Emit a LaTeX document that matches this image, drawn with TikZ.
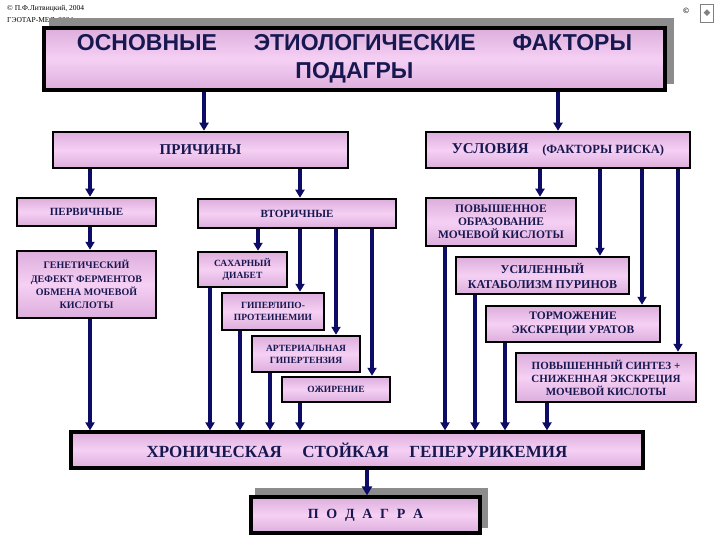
\documentclass[tikz,border=0pt]{standalone}
\usepackage{fontspec}
\setmainfont{Liberation Serif}
\newfontfamily\headfont{Liberation Sans}
\newfontfamily\dejavu{DejaVu Sans}
\usetikzlibrary{arrows.meta, positioning, calc, backgrounds}
\definecolor{inknavy}{HTML}{181850}
\definecolor{arrownavy}{HTML}{0C0C66}
\definecolor{boxedge}{HTML}{DCAEDC}
\definecolor{boxmid}{HTML}{F6D0F4}
\definecolor{shadowgray}{HTML}{8C8C8C}
\newcommand{\boxfont}[2]{\fontsize{#1}{#2}\selectfont\bfseries}
\tikzstyle{factbox} = [draw=black, rectangle, line width=2.5pt, inner sep=1pt, align=center, text=inknavy, top color=boxedge, bottom color=boxedge, middle color=boxmid]
\tikzstyle{bigbox} = [factbox, line width=3.2pt]
\tikzstyle{arrw} = [line width=3.2pt, draw=arrownavy, -{Triangle[length=8pt, width=9pt]}]
\tikzstyle{note} = [inner sep=0pt, font=\fontsize{7.5}{9}\selectfont]

\begin{document}
\begin{tikzpicture}[x=1pt, y=-1pt]
    \useasboundingbox (0,0) rectangle (720,540);

    % Title
    \node (title) [bigbox, minimum width=621pt, minimum height=62pt, text=inknavy, font=\headfont\bfseries\fontsize{23}{28}\selectfont] at (354.5,59) {ОСНОВНЫЕ\hspace{1.6em}ЭТИОЛОГИЧЕСКИЕ\hspace{1.6em}ФАКТОРЫ\\ПОДАГРЫ};
    \begin{scope}[on background layer]
        \node (cpr1) [note, anchor=west] at (7,9) {© П.Ф.Литвицкий, 2004};
        \node (cpr2) [note, anchor=west] at (7,21) {ГЭОТАР-МЕД, 2004};
        \fill[shadowgray] ([shift={(7pt,8pt)}]title.south west) rectangle ([shift={(7pt,8pt)}]title.north east);
    \end{scope}
    \node (cpr3) [note, font=\bfseries\fontsize{8}{9}\selectfont] at (686,11) {©};
    \node (logo) [draw=gray, line width=0.6pt, minimum width=13pt, minimum height=18pt, inner sep=0pt, text=gray, font=\dejavu\fontsize{9}{9}\selectfont] at (707,13) {◆};

    % Causes
    \node (prich) [factbox, minimum width=295pt, minimum height=36pt, font=\boxfont{15}{18}] at (200.5,150) {ПРИЧИНЫ};
    \node (perv) [factbox, minimum width=139pt, minimum height=28pt, font=\boxfont{11}{13}] at (86.5,212) {ПЕРВИЧНЫЕ};
    \node (vtor) [factbox, minimum width=198pt, minimum height=29pt, font=\boxfont{11}{13}] at (297,213.5) {ВТОРИЧНЫЕ};
    \node (genet) [factbox, minimum width=139pt, minimum height=67pt, font=\boxfont{10}{13.3}] at (86.5,284.5) {ГЕНЕТИЧЕСКИЙ\\ДЕФЕКТ ФЕРМЕНТОВ\\ОБМЕНА МОЧЕВОЙ\\КИСЛОТЫ};
    \node (diab) [factbox, minimum width=89pt, minimum height=35pt, font=\boxfont{9.5}{12}] at (242.5,269.5) {САХАРНЫЙ\\ДИАБЕТ};
    \node (lipo) [factbox, minimum width=102pt, minimum height=37pt, font=\boxfont{9.5}{12.5}] at (273,311.5) {ГИПЕРЛИПО-\\ПРОТЕИНЕМИИ};
    \node (hypert) [factbox, minimum width=108pt, minimum height=36pt, font=\boxfont{9.5}{12}] at (306,354) {АРТЕРИАЛЬНАЯ\\ГИПЕРТЕНЗИЯ};
    \node (obes) [factbox, minimum width=108pt, minimum height=25pt, font=\boxfont{9.5}{12}] at (336,389.5) {ОЖИРЕНИЕ};

    % Conditions
    \node (uslov) [factbox, minimum width=264pt, minimum height=36pt, font=\boxfont{15}{18}] at (558,150) {УСЛОВИЯ\hspace{0.9em}{\fontsize{12.5}{15}\selectfont(ФАКТОРЫ РИСКА)}};
    \node (uric) [factbox, minimum width=150pt, minimum height=48pt, font=\boxfont{11.5}{13}] at (501,222) {ПОВЫШЕННОЕ\\ОБРАЗОВАНИЕ\\МОЧЕВОЙ КИСЛОТЫ};
    \node (purin) [factbox, minimum width=173pt, minimum height=37pt, font=\boxfont{12}{15}] at (542.5,275.5) {УСИЛЕННЫЙ\\КАТАБОЛИЗМ ПУРИНОВ};
    \node (urat) [factbox, minimum width=174pt, minimum height=36pt, font=\boxfont{11.5}{14}] at (573,324) {ТОРМОЖЕНИЕ\\ЭКСКРЕЦИИ УРАТОВ};
    \node (synth) [factbox, minimum width=180pt, minimum height=49pt, font=\boxfont{11}{13}] at (606,377.5) {ПОВЫШЕННЫЙ СИНТЕЗ +\\СНИЖЕННАЯ ЭКСКРЕЦИЯ\\МОЧЕВОЙ КИСЛОТЫ};

    % Result
    \node (hyper) [bigbox, minimum width=572pt, minimum height=36pt, font=\boxfont{17}{20}] at (357,450) {ХРОНИЧЕСКАЯ\hspace{1.2em}СТОЙКАЯ\hspace{1.2em}ГЕПЕРУРИКЕМИЯ};
    \node (gout) [bigbox, minimum width=229pt, minimum height=36pt, font=\boxfont{14}{16}] at (365.5,515) {П\hspace{0.55em}О\hspace{0.55em}Д\hspace{0.55em}А\hspace{0.55em}Г\hspace{0.55em}Р\hspace{0.55em}А};
    \begin{scope}[on background layer]
        \fill[shadowgray] ([shift={(6pt,7pt)}]gout.south west) rectangle ([shift={(6pt,7pt)}]gout.north east);
    \end{scope}

    % Arrows
    \foreach \xx/\src/\dst in {204/title/prich, 558/title/uslov, 90/prich/perv, 300/prich/vtor, 90/perv/genet,
        258/vtor/diab, 300/vtor/lipo, 336/vtor/hypert, 372/vtor/obes,
        540/uslov/uric, 600/uslov/purin, 642/uslov/urat, 678/uslov/synth,
        90/genet/hyper, 210/diab/hyper, 240/lipo/hyper, 270/hypert/hyper, 300/obes/hyper,
        445/uric/hyper, 475/purin/hyper, 505/urat/hyper, 547/synth/hyper}
        \draw [arrw] (\xx,0 |- \src.south) -- (\xx,0 |- \dst.north);
    \draw [arrw, line width=4pt, -{Triangle[length=9pt, width=10pt]}] (367,0 |- hyper.south) -- (367,0 |- gout.north);
\end{tikzpicture}
\end{document}
